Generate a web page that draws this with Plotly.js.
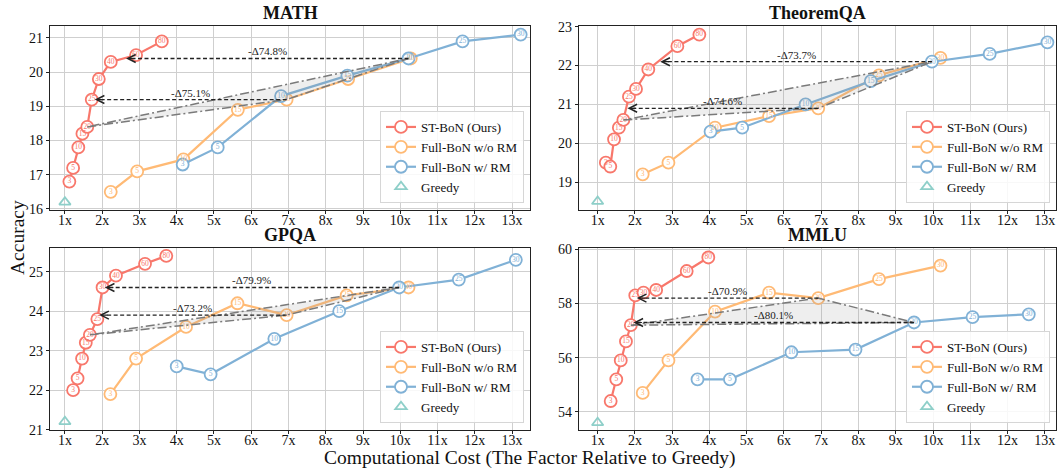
<!DOCTYPE html>
<html><head><meta charset="utf-8">
<script src="https://cdn.plot.ly/plotly-3.0.1.min.js"></script>
<style>html,body{margin:0;padding:0;background:#fff}#chart{width:1058px;height:470px}</style>
</head><body><div id="chart"></div>
<script>
// ---------- data ----------
const panelTitles = ["MATH", "TheoremQA", "GPQA", "MMLU"];
const seriesNames = ["ST-BoN (Ours)", "Full-BoN w/o RM", "Full-BoN w/ RM", "Greedy"];
const stN = [3, 5, 10, 15, 20, 25, 30, 40, 60, 80];
const fullN = [3, 5, 10, 15, 20, 25, 30];
const xTickVals = [1,2,3,4,5,6,7,8,9,10,11,12,13];

// MATH
const mathStCost = [1.12, 1.22, 1.36, 1.47, 1.60, 1.72, 1.91, 2.23, 2.91, 3.60];
const mathStAcc  = [16.8, 17.2, 17.8, 18.2, 18.4, 19.2, 19.8, 20.3, 20.5, 20.9];
const mathNoRmCost = [2.23, 2.94, 4.18, 5.64, 6.95, 8.60, 10.28];
const mathNoRmAcc  = [16.5, 17.1, 17.45, 18.9, 19.2, 19.8, 20.4];
const mathRmCost = [4.16, 5.10, 6.80, 8.58, 10.22, 11.67, 13.23];
const mathRmAcc  = [17.3, 17.8, 19.3, 19.9, 20.4, 20.9, 21.1];
const mathGreedy = 16.2;
const mathTips = [1.80, 2.64];            // ST-BoN cost reached at the w/o RM and w/ RM accuracy
const mathDelta = ["-Δ75.1%", "-Δ74.8%"];

// TheoremQA
const thmStCost = [1.22, 1.34, 1.44, 1.57, 1.69, 1.84, 2.03, 2.36, 3.14, 3.73];
const thmStAcc  = [19.5, 19.4, 20.1, 20.4, 20.6, 21.2, 21.4, 21.9, 22.5, 22.8];
const thmNoRmCost = [2.21, 2.90, 4.15, 5.60, 6.92, 8.55, 10.20];
const thmNoRmAcc  = [19.2, 19.5, 20.4, 20.7, 20.9, 21.75, 22.2];
const thmRmCost = [4.03, 4.88, 6.58, 8.33, 9.97, 11.52, 13.07];
const thmRmAcc  = [20.3, 20.4, 21.0, 21.6, 22.1, 22.3, 22.6];
const thmGreedy = 18.5;
const thmTips = [1.80, 2.68];
const thmDelta = ["-Δ74.6%", "-Δ73.7%"];

// GPQA
const gpqaStCost = [1.22, 1.34, 1.46, 1.56, 1.67, 1.87, 2.01, 2.37, 3.15, 3.72];
const gpqaStAcc  = [22.0, 22.3, 22.8, 23.2, 23.4, 23.8, 24.6, 24.9, 25.2, 25.4];
const gpqaNoRmCost = [2.22, 2.91, 4.25, 5.63, 6.95, 8.56, 10.22];
const gpqaNoRmAcc  = [21.9, 22.8, 23.6, 24.2, 23.9, 24.4, 24.6];
const gpqaRmCost = [4.00, 4.91, 6.62, 8.36, 9.97, 11.57, 13.10];
const gpqaRmAcc  = [22.6, 22.4, 23.3, 24.0, 24.6, 24.8, 25.3];
const gpqaGreedy = 21.2;
const gpqaTips = [1.92, 2.07];
const gpqaDelta = ["-Δ73.2%", "-Δ79.9%"];

// MMLU
const mmluStCost = [1.35, 1.50, 1.62, 1.76, 1.89, 2.01, 2.23, 2.57, 3.39, 3.97];
const mmluStAcc  = [54.4, 55.2, 55.9, 56.6, 57.2, 58.3, 58.4, 58.5, 59.2, 59.7];
const mmluNoRmCost = [2.21, 2.90, 4.15, 5.60, 6.92, 8.55, 10.20];
const mmluNoRmAcc  = [54.7, 55.9, 57.7, 58.4, 58.2, 58.9, 59.4];
const mmluRmCost = [3.68, 4.55, 6.20, 7.92, 9.49, 11.06, 12.57];
const mmluRmAcc  = [55.2, 55.2, 56.2, 56.3, 57.3, 57.5, 57.6];
const mmluGreedy = 53.6;
const mmluTips = [2.05, 1.96];
const mmluDelta = ["-Δ70.9%", "-Δ80.1%"];

// ---------- styling ----------
const FONT = "Liberation Serif, DejaVu Serif, serif";
const C_RED = "#F8776B", C_ORA = "#FFBA75", C_BLU = "#80B1D6", C_TEAL = "#8ECFC9";
const W = 1058, H = 470;
const panels = [
  {st:[mathStCost, mathStAcc], no:[mathNoRmCost, mathNoRmAcc], rm:[mathRmCost, mathRmAcc], g: mathGreedy, tips: mathTips, delta: mathDelta,
   px:[50,530], py:[26,210], xr:[0.6,13.48], yr:[15.97,21.35], dt:1},
  {st:[thmStCost, thmStAcc], no:[thmNoRmCost, thmNoRmAcc], rm:[thmRmCost, thmRmAcc], g: thmGreedy, tips: thmTips, delta: thmDelta,
   px:[579,1056], py:[26,210], xr:[0.5,13.3], yr:[18.28,23.02], dt:1},
  {st:[gpqaStCost, gpqaStAcc], no:[gpqaNoRmCost, gpqaNoRmAcc], rm:[gpqaRmCost, gpqaRmAcc], g: gpqaGreedy, tips: gpqaTips, delta: gpqaDelta,
   px:[50,530], py:[248,430], xr:[0.6,13.48], yr:[20.99,25.6], dt:1},
  {st:[mmluStCost, mmluStAcc], no:[mmluNoRmCost, mmluNoRmAcc], rm:[mmluRmCost, mmluRmAcc], g: mmluGreedy, tips: mmluTips, delta: mmluDelta,
   px:[579,1056], py:[248,430], xr:[0.5,13.3], yr:[53.33,60.05], dt:2}
];

const traces = [];
const annotations = [];
const layout = {
  width: W, height: H, margin: {l:0, r:0, t:0, b:0},
  paper_bgcolor: "#fff", plot_bgcolor: "#fff",
  font: {family: FONT, color: "#111"},
  showlegend: true, annotations: annotations
};

panels.forEach((p, i) => {
  const k = i === 0 ? "" : String(i + 1);
  const xa = "x" + k, ya = "y" + k;
  const lg = "legend" + k;
  const axBase = {
    showline: true, mirror: true, linecolor: "#222", linewidth: 1.2,
    ticks: "outside", ticklen: 3, tickcolor: "#222", tickwidth: 1,
    showgrid: true, gridcolor: "#cfcfcf", gridwidth: 1, zeroline: false,
    tickfont: {family: FONT, size: 14, color: "#111"}
  };
  layout["xaxis" + k] = Object.assign({}, axBase, {
    domain: [p.px[0] / W, p.px[1] / W], range: p.xr, anchor: ya,
    tickmode: "array", tickvals: xTickVals, ticktext: xTickVals.map(v => v + "x"),
    ticklabelstandoff: -6
  });
  layout["yaxis" + k] = Object.assign({}, axBase, {
    domain: [1 - p.py[1] / H, 1 - p.py[0] / H], range: p.yr, anchor: xa,
    dtick: p.dt, tick0: 0
  });
  layout[lg] = {
    x: (p.px[1] - 6) / W, xanchor: "right", y: 1 - (p.py[1] - 7) / H, yanchor: "bottom",
    xref: "paper", yref: "paper",
    bgcolor: "rgba(255,255,255,0.85)", bordercolor: "#d6d6d6", borderwidth: 1,
    font: {family: "Liberation Serif", size: 13, color: "#111", weight: "normal"}, tracegroupgap: 0, itemwidth: 30
  };

  const mk = (c) => ({symbol: "circle", size: 12, color: "#fff", line: {color: c, width: 1.8}});
  traces.push({type: "scatter", mode: "lines+markers", x: p.no[0], y: p.no[1], xaxis: xa, yaxis: ya,
    name: seriesNames[1], legend: lg, legendrank: 2, line: {color: C_ORA, width: 2.2}, marker: mk(C_ORA), hoverinfo: "skip"});
  traces.push({type: "scatter", mode: "lines+markers", x: p.rm[0], y: p.rm[1], xaxis: xa, yaxis: ya,
    name: seriesNames[2], legend: lg, legendrank: 3, line: {color: C_BLU, width: 2.2}, marker: mk(C_BLU), hoverinfo: "skip"});
  traces.push({type: "scatter", mode: "lines+markers", x: p.st[0], y: p.st[1], xaxis: xa, yaxis: ya,
    name: seriesNames[0], legend: lg, legendrank: 1, line: {color: C_RED, width: 2.2}, marker: mk(C_RED), hoverinfo: "skip"});
  traces.push({type: "scatter", mode: "markers", x: [1], y: [p.g], xaxis: xa, yaxis: ya,
    name: seriesNames[3], legend: lg, legendrank: 4,
    marker: {symbol: "triangle-up-open", size: 10, color: C_TEAL, line: {color: C_TEAL, width: 1.8}}, hoverinfo: "skip"});

  [[p.no, fullN, C_ORA], [p.rm, fullN, C_BLU], [p.st, stN, C_RED]].forEach(([s, n, c]) => {
    traces.push({type: "scatter", mode: "text", x: s[0], y: s[1], xaxis: xa, yaxis: ya, showlegend: false,
      text: n.map(String), textposition: "middle center", textfont: {family: FONT, size: 7.5, color: c}, hoverinfo: "skip"});
  });

  const A = [p.st[0][4], p.st[1][4]], B = [p.no[0][4], p.no[1][4]], Cc = [p.rm[0][4], p.rm[1][4]];
  traces.push({type: "scatter", mode: "lines", x: [A[0], B[0], Cc[0], A[0]], y: [A[1], B[1], Cc[1], A[1]],
    xaxis: xa, yaxis: ya, showlegend: false, fill: "toself", fillcolor: "rgba(150,150,150,0.16)",
    line: {color: "#7a7a7a", width: 1.5, dash: "9px,3px,2px,3px"}, hoverinfo: "skip"});

  [[B, p.tips[0], p.delta[0]], [Cc, p.tips[1], p.delta[1]]].forEach(([src, tip, txt]) => {
    traces.push({type: "scatter", mode: "lines", x: [src[0], tip + 0.15], y: [src[1], src[1]], xaxis: xa, yaxis: ya,
      showlegend: false, line: {color: "#222", width: 1.3, dash: "4px,2.5px"}, hoverinfo: "skip"});
    annotations.push({xref: xa, yref: ya, x: tip, y: src[1], ax: 10, ay: 0, text: "", showarrow: true,
      arrowhead: 5, arrowsize: 1.3, arrowwidth: 1.2, arrowcolor: "#222", standoff: 0});
    annotations.push({xref: xa, yref: ya, x: (src[0] + tip) / 2, y: src[1], yshift: 7, text: txt, showarrow: false,
      font: {family: FONT, size: 11, color: "#222"}, xanchor: "center", yanchor: "middle"});
  });

  annotations.push({xref: "paper", yref: "paper", x: (p.px[0] + p.px[1]) / 2 / W, y: 1 - (p.py[0] - 13) / H,
    text: "<b>" + panelTitles[i] + "</b>", showarrow: false, xanchor: "center", yanchor: "middle",
    font: {family: FONT, size: 18, color: "#111"}});
});

annotations.push({xref: "paper", yref: "paper", x: 530 / W, y: 1 - 458 / H, text: "Computational Cost (The Factor Relative to Greedy)",
  showarrow: false, xanchor: "center", yanchor: "middle", font: {family: FONT, size: 19.5, color: "#111"}});
annotations.push({xref: "paper", yref: "paper", x: 18 / W, y: 1 - 238 / H, text: "Accuracy", textangle: -90,
  showarrow: false, xanchor: "center", yanchor: "middle", font: {family: FONT, size: 19.5, color: "#111"}});

Plotly.newPlot("chart", traces, layout, {displayModeBar: false, staticPlot: true});
</script>
</body></html>
